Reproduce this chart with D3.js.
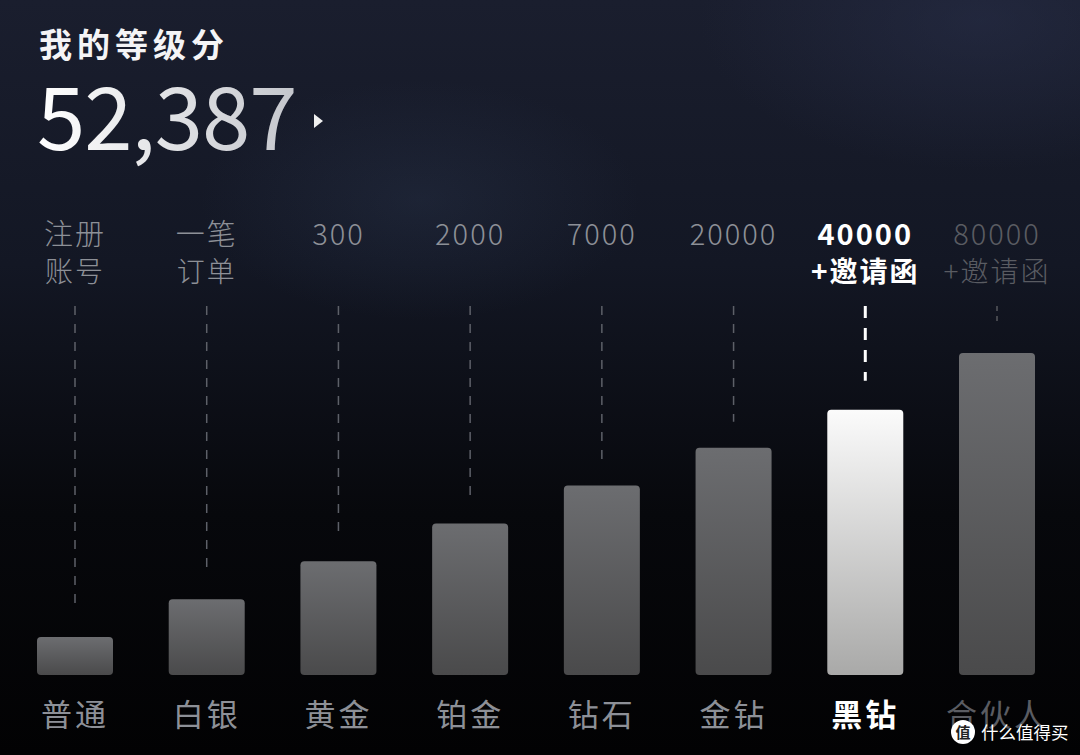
<!DOCTYPE html>
<html>
<head>
<meta charset="utf-8">
<script src="https://cdn.jsdelivr.net/npm/d3@7"></script>
<style>
  html, body { margin: 0; padding: 0; background: #000; }
  svg { display: block; }
  text { font-family: "Noto Sans CJK SC", "Noto Sans", sans-serif; }
</style>
</head>
<body>
<div id="chart"></div>
<script>
// levels and what it takes to reach them
const levels = ["普通", "白银", "黄金", "铂金", "钻石", "金钻", "黑钻", "合伙人"];
const thresholdLine1 = ["注册", "一笔", "300", "2000", "7000", "20000", "40000", "80000"];
const thresholdLine2 = ["账号", "订单", "", "", "", "", "+邀请函", "+邀请函"];
// bar height in level steps
const barSteps = [1, 2, 3, 4, 5, 6, 7, 8.5];
const state = ["past", "past", "past", "past", "past", "past", "current", "future"];
const myScore = 52387;

const width = 1080;
const height = 755;
const baseY = 675;

const svg = d3.select("#chart")
  .append("svg")
  .attr("width", width)
  .attr("height", height);

const defs = svg.append("defs");

const bg = defs.append("linearGradient").attr("id", "bg")
  .attr("x1", 0).attr("y1", 0).attr("x2", 0).attr("y2", 1);
bg.append("stop").attr("offset", "0%").attr("stop-color", "#1a1e2e");
bg.append("stop").attr("offset", "35%").attr("stop-color", "#131724");
bg.append("stop").attr("offset", "68%").attr("stop-color", "#07080c");
bg.append("stop").attr("offset", "100%").attr("stop-color", "#020203");

const glow = defs.append("radialGradient").attr("id", "glow")
  .attr("cx", 0.5).attr("cy", 0.5).attr("r", 0.5);
glow.append("stop").attr("offset", "0%").attr("stop-color", "#3a4a68").attr("stop-opacity", 0.22);
glow.append("stop").attr("offset", "100%").attr("stop-color", "#3a4a68").attr("stop-opacity", 0);

const glow2 = defs.append("radialGradient").attr("id", "glow2")
  .attr("cx", 0.5).attr("cy", 0.5).attr("r", 0.5);
glow2.append("stop").attr("offset", "0%").attr("stop-color", "#2c3350").attr("stop-opacity", 0.45);
glow2.append("stop").attr("offset", "100%").attr("stop-color", "#2c3350").attr("stop-opacity", 0);

const grayBar = defs.append("linearGradient").attr("id", "grayBar")
  .attr("x1", 0).attr("y1", 0).attr("x2", 0).attr("y2", 1);
grayBar.append("stop").attr("offset", "0%").attr("stop-color", "#6c6d70");
grayBar.append("stop").attr("offset", "100%").attr("stop-color", "#4a4a4b");

const whiteBar = defs.append("linearGradient").attr("id", "whiteBar")
  .attr("x1", 0).attr("y1", 0).attr("x2", 0).attr("y2", 1);
whiteBar.append("stop").attr("offset", "0%").attr("stop-color", "#fbfbfb");
whiteBar.append("stop").attr("offset", "100%").attr("stop-color", "#a9a9a8");

const scoreGrad = defs.append("linearGradient").attr("id", "scoreGrad")
  .attr("x1", 0).attr("y1", 0).attr("x2", 1).attr("y2", 0);
scoreGrad.append("stop").attr("offset", "0%").attr("stop-color", "#ffffff");
scoreGrad.append("stop").attr("offset", "100%").attr("stop-color", "#c4c6cc");

svg.append("rect").attr("width", width).attr("height", height).attr("fill", "url(#bg)");
svg.append("ellipse").attr("cx", 420).attr("cy", 200).attr("rx", 220).attr("ry", 120).attr("fill", "url(#glow)");
svg.append("ellipse").attr("cx", 980).attr("cy", 20).attr("rx", 280).attr("ry", 150).attr("fill", "url(#glow2)");

// header
svg.append("text")
  .attr("x", 39).attr("y", 57)
  .attr("font-size", 33).attr("font-weight", 700)
  .attr("fill", "#f4f4f6").attr("letter-spacing", 5)
  .text("我的等级分");

svg.append("text")
  .attr("x", 37).attr("y", 150)
  .attr("font-size", 87).attr("font-weight", 400)
  .attr("font-family", "Roboto, 'Noto Sans', sans-serif")
  .attr("letter-spacing", -1)
  .attr("fill", "url(#scoreGrad)")
  .text(d3.format(",")(myScore));

svg.append("path")
  .attr("d", "M314,114 L323,121 L314,128 Z")
  .attr("fill", "#f0f0f0");

// scales
const x = d3.scalePoint().domain(levels).range([75, 997]);
const y = d3.scaleLinear().domain([0, 8.5]).range([baseY, baseY - 322]);
const barW = 76;

const textColor = s => s === "current" ? "#ffffff" : s === "past" ? "#8d9097" : "#5a5c62";

// dashed guides
levels.forEach((lv, i) => {
  const cx = x(lv);
  const top = y(barSteps[i]);
  if (state[i] === "current") {
    svg.append("line")
      .attr("x1", cx).attr("x2", cx)
      .attr("y1", 306).attr("y2", top - 29)
      .attr("stroke", "#ffffff").attr("stroke-width", 3)
      .attr("stroke-dasharray", "12,10");
  } else if (state[i] === "future") {
    svg.append("line")
      .attr("x1", cx).attr("x2", cx)
      .attr("y1", 306).attr("y2", 322)
      .attr("stroke", "#55575c").attr("stroke-width", 1.5)
      .attr("stroke-dasharray", "5,5");
  } else {
    svg.append("line")
      .attr("x1", cx).attr("x2", cx)
      .attr("y1", 306).attr("y2", top - 26)
      .attr("stroke", "#5d6068").attr("stroke-width", 1.5)
      .attr("stroke-dasharray", "9,9");
  }
});

// bars
svg.selectAll("rect.bar")
  .data(levels)
  .enter()
  .append("rect")
  .attr("class", "bar")
  .attr("x", d => x(d) - barW / 2)
  .attr("y", (d, i) => y(barSteps[i]))
  .attr("width", barW)
  .attr("height", (d, i) => baseY - y(barSteps[i]))
  .attr("rx", 4)
  .attr("fill", (d, i) => state[i] === "current" ? "url(#whiteBar)" : "url(#grayBar)");

// threshold labels
const thresholdFont = "Roboto, 'Noto Sans CJK SC', sans-serif";

svg.selectAll("text.t1")
  .data(thresholdLine1)
  .enter()
  .append("text")
  .attr("class", "t1")
  .attr("x", (d, i) => x(levels[i]))
  .attr("y", 245)
  .attr("text-anchor", "middle")
  .attr("font-family", thresholdFont)
  .attr("font-size", 29)
  .attr("letter-spacing", 2)
  .attr("font-weight", (d, i) => state[i] === "current" ? 700 : 300)
  .attr("fill", (d, i) => textColor(state[i]))
  .text(d => d);

svg.selectAll("text.t2")
  .data(thresholdLine2)
  .enter()
  .append("text")
  .attr("class", "t2")
  .attr("x", (d, i) => x(levels[i]))
  .attr("y", 282)
  .attr("text-anchor", "middle")
  .attr("font-family", thresholdFont)
  .attr("font-size", 28)
  .attr("letter-spacing", 2)
  .attr("font-weight", (d, i) => state[i] === "current" ? 700 : 300)
  .attr("fill", (d, i) => textColor(state[i]))
  .text(d => d);

// level names
svg.selectAll("text.lv")
  .data(levels)
  .enter()
  .append("text")
  .attr("class", "lv")
  .attr("x", d => x(d))
  .attr("y", 726)
  .attr("text-anchor", "middle")
  .attr("font-size", 31)
  .attr("letter-spacing", 3)
  .attr("font-weight", (d, i) => state[i] === "current" ? 700 : 400)
  .attr("fill", (d, i) => textColor(state[i]))
  .text(d => d);

// watermark
const wm = svg.append("g").attr("transform", "translate(963,732)");
wm.append("circle").attr("r", 12).attr("fill", "#ffffff");
wm.append("text")
  .attr("y", 6).attr("text-anchor", "middle")
  .attr("font-size", 15).attr("font-weight", 700)
  .attr("fill", "#222")
  .text("值");
wm.append("text")
  .attr("x", 18).attr("y", 7)
  .attr("font-size", 17.5)
  .attr("fill", "#ffffff")
  .text("什么值得买");
</script>
</body>
</html>
